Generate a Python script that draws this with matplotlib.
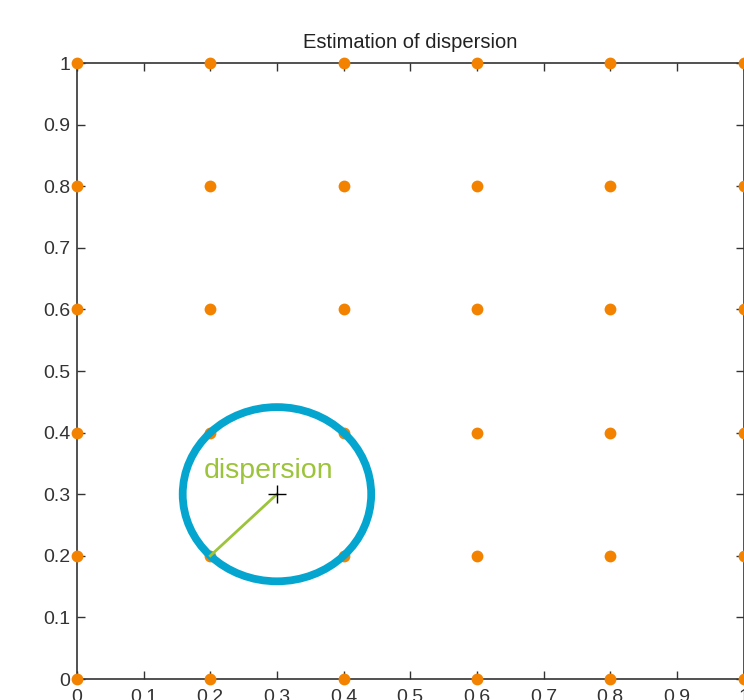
import numpy as np
import matplotlib
matplotlib.use("Agg")
import matplotlib.pyplot as plt
from matplotlib.patches import Circle

# Data
grid_x = [0, 0.2, 0.4, 0.6, 0.8, 1.0]
grid_y = [0, 0.2, 0.4, 0.6, 0.8, 1.0]
center = (0.3, 0.3)
radius = 0.1414
radius_end = (0.2, 0.2)
label_text = "dispersion"
label_pos = (0.287, 0.338)
ticks = [0, 0.1, 0.2, 0.3, 0.4, 0.5, 0.6, 0.7, 0.8, 0.9, 1.0]
tick_labels = ["0", "0.1", "0.2", "0.3", "0.4", "0.5", "0.6", "0.7", "0.8", "0.9", "1"]

plt.rcParams['font.family'] = ['Liberation Sans', 'DejaVu Sans']

fig = plt.figure(figsize=(7.44, 7.0), dpi=100)
ax = fig.add_axes([77/744, 21/700, 666.5/744, 616/700])

gx, gy = np.meshgrid(grid_x, grid_y)
ax.plot(gx.ravel(), gy.ravel(), 'o', color='#f28200', markersize=8.5, markeredgewidth=0,
        clip_on=False, zorder=3)

circ = Circle(center, radius, fill=False, edgecolor='#04a6cf', linewidth=5.6, zorder=4)
ax.add_patch(circ)

ax.plot([center[0], radius_end[0]], [center[1], radius_end[1]], color='#9cc43a',
        linewidth=2, zorder=5)
ax.plot([center[0]], [center[1]], '+', color='black', markersize=13, markeredgewidth=1, zorder=6)
ax.text(label_pos[0], label_pos[1], label_text, color='#9cc43a', fontsize=20.5,
        ha='center', va='center', zorder=6)

ax.set_xlim(0, 1)
ax.set_ylim(0, 1)
ax.set_xticks(ticks)
ax.set_xticklabels(tick_labels)
ax.set_yticks(ticks)
ax.set_yticklabels(tick_labels)
ax.tick_params(direction='in', length=6, width=1, colors='#333333', labelsize=14,
               top=True, right=True)
ax.tick_params(axis='x', pad=7)
ax.tick_params(axis='y', pad=5)
for s in ax.spines.values():
    s.set_color('#333333')
    s.set_linewidth(1.2)
ax.set_title("Estimation of dispersion", fontsize=14.5, color='#222222', pad=11)

fig.savefig("out.png", dpi=100)
